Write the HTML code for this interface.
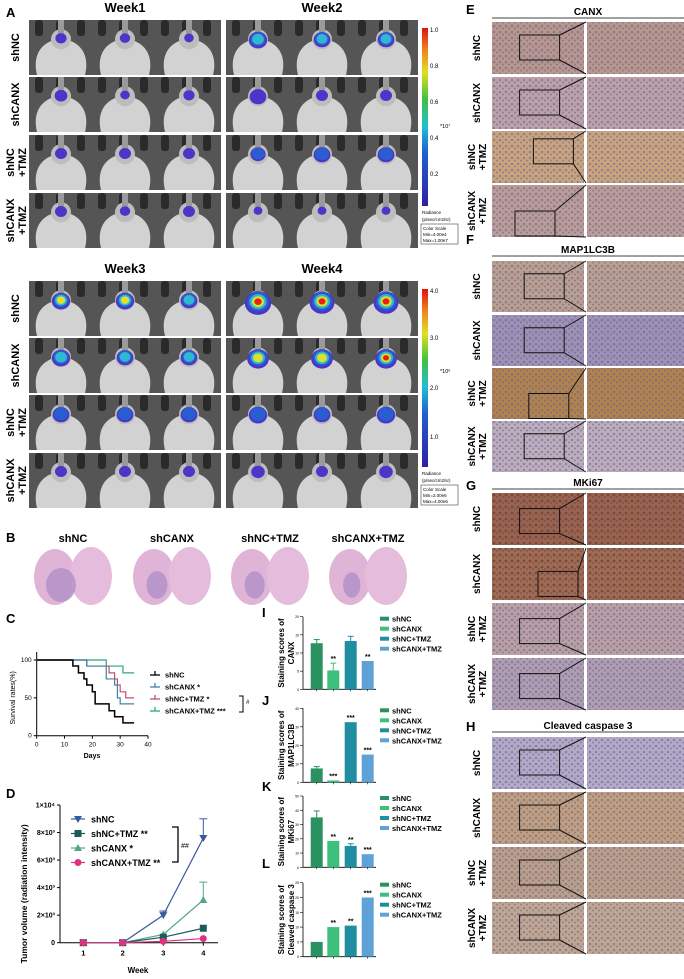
<!DOCTYPE html>
<html><head><meta charset="utf-8"><style>
body{margin:0;background:#fff;}
svg{display:block;font-family:"Liberation Sans",Arial,sans-serif;}
.b{font-weight:bold}
</style></head><body>
<svg id="fig" width="684" height="979" viewBox="0 0 684 979" xmlns="http://www.w3.org/2000/svg">
<defs id="defs">
<pattern id="dotsP" width="6" height="6" patternUnits="userSpaceOnUse"><circle cx="2" cy="2" r="1.3" fill="#6a5c9c" opacity="0.55"/><circle cx="5" cy="4.5" r="1" fill="#5a4c8c" opacity="0.45"/></pattern>
<pattern id="dotsB" width="6" height="6" patternUnits="userSpaceOnUse"><circle cx="2" cy="3" r="1.4" fill="#6a3020" opacity="0.55"/><circle cx="5" cy="5" r="1" fill="#503070" opacity="0.4"/></pattern>
<linearGradient id="cbar" x1="0" y1="1" x2="0" y2="0"><stop offset="0" stop-color="#3020a0"/><stop offset="0.3" stop-color="#2060d0"/><stop offset="0.45" stop-color="#20c0d0"/><stop offset="0.6" stop-color="#40c040"/><stop offset="0.75" stop-color="#e0e020"/><stop offset="0.88" stop-color="#f08020"/><stop offset="1" stop-color="#e01010"/></linearGradient>
</defs>
<g id="panelA"></g>
<g id="panelB"></g>
<g id="panelC"></g>
<g id="panelD"></g>
<g id="bars"></g>
<g id="ihc"></g>
</svg>
<script>
// ---------- Chart data ----------
const groupsBar = ["shNC","shCANX","shNC+TMZ","shCANX+TMZ"];
const canxScores = [12.7,5.2,13.3,7.8];
const canxErr = [1.0,2.0,1.3,0];
const lc3bScores = [7.5,1.0,32.5,15.0];
const lc3bErr = [1.0,0,0,0];
const mki67Scores = [35,18.5,15,9.2];
const mki67Err = [4.5,0,1.5,0];
const casp3Scores = [5,10,10.5,20];
const casp3Err = [0,0,0,0];
const weeks = [1,2,3,4];
const volShNC = [0,0,2000,7600];
const volShNCErr = [0,0,300,1400];
const volShNCTMZ = [0,0,400,1050];
const volShCANX = [0,0,600,3100];
const volShCANXErr = [0,0,0,1300];
const volShCANXTMZ = [0,0,100,300];
const volTicks = [0,2000,4000,6000,8000,10000];
const volTickLabels = ["0","2×10³","4×10³","6×10³","8×10³","1×10⁴"];
const survDaysNC = [0,13,15,17,18,20,21,26,28,31,35];
const survNC = [100,92,83,75,67,58,42,33,25,17,17];
const survDaysCANX = [0,18,25,28,29,30,35];
const survCANX = [100,92,75,67,50,42,42];
const survDaysNCT = [0,18,26,28,29,30,32,35];
const survNCT = [100,92,83,75,67,58,50,50];
const survDaysCT = [0,25,31,35];
const survCT = [100,92,83,83];
const survXTicks = [0,10,20,30,40];
const survYTicks = [0,50,100];

const NS="http://www.w3.org/2000/svg";
function el(parent,tag,attrs,text){const e=document.createElementNS(NS,tag);for(const k in attrs)e.setAttribute(k,attrs[k]);if(text!==undefined)e.textContent=text;parent.appendChild(e);return e;}
const DEFS=document.getElementById('defs');

// ---------- Panel A ----------
const A=document.getElementById('panelA');
let t;
t=el(A,'text',{x:6,y:17,'font-size':13,'class':'b'},'A');

const rowNames=[["shNC"],["shCANX"],["shNC","+TMZ"],["shCANX","+TMZ"]];
const rowsTop=[20,77,135,193], rowsBot=[281,338,395,453], rowH=55;
const blocks=[
 {x:29,rows:rowsTop,title:"Week1",ty:12,lv:[[1,1,1],[1,1,1],[1,1,1],[1,1,1]],sz:[[.45,.4,.35],[.55,.35,.45],[.5,.5,.5],[.5,.4,.5]]},
 {x:226,rows:rowsTop,title:"Week2",ty:12,lv:[[3,3,3],[1,1,1],[2,2,2],[1,1,1]],sz:[[.9,.8,.8],[.8,.5,.5],[.7,.8,.8],[.3,.3,.3]]},
 {x:29,rows:rowsBot,title:"Week3",ty:273,lv:[[4,4,3],[3,3,3],[2,2,2],[1,1,1]],sz:[[.9,.9,.8],[.9,.8,.8],[.8,.8,.8],[.5,.5,.5]]},
 {x:226,rows:rowsBot,title:"Week4",ty:273,lv:[[5,5,5],[4,4,5],[2,2,2],[1,1,1]],sz:[[1.4,1.3,1.3],[1.1,1.1,1.1],[.9,.8,.9],[.6,.5,.6]]}
];
const heat=["#4a36c8","#2a5ed0","#30b8d0","#d8e030","#e82010"];
let clipId=0;
blocks.forEach((b,bi)=>{
  t=el(A,'text',{x:b.x+96,y:b.ty,'font-size':13,'class':'b','text-anchor':'middle'},b.title);
  
  b.rows.forEach((ry,ri)=>{
    const cp=el(DEFS,'clipPath',{id:'cp'+(++clipId)});
    el(cp,'rect',{x:b.x,y:ry,width:192,height:rowH});
    const g=el(A,'g',{'clip-path':`url(#cp${clipId})`});
    
    el(g,'rect',{x:b.x,y:ry,width:192,height:rowH,fill:'#555'});
    for(let k=0;k<9;k++){el(g,'rect',{x:b.x+6+k*21,y:ry,width:8,height:16,fill:'#2a2a2a',rx:3});}
    for(let m=0;m<3;m++){
      const cx=b.x+32+m*64;
      el(g,'path',{d:`M${cx-24},${ry+rowH} C${cx-30},${ry+rowH*0.55} ${cx-14},${ry+rowH*0.35} ${cx},${ry+rowH*0.35} C${cx+14},${ry+rowH*0.35} ${cx+30},${ry+rowH*0.55} ${cx+24},${ry+rowH} Z`,fill:'#d2d2d2'});
      el(g,'ellipse',{cx:cx,cy:ry+rowH*0.35,rx:10,ry:10,fill:'#bdbdbd'});
      el(g,'rect',{x:cx-3,y:ry,width:6,height:rowH*0.25,fill:'#9a9a9a'});
      const s=b.sz[ri][m], lv=b.lv[ri][m];
      const cy=ry+rowH*0.3+s*4;
      el(g,'ellipse',{cx:cx,cy:cy,rx:8*s+2,ry:7*s+2,fill:heat[0]});
      for(let L=1;L<lv;L++){
        el(g,'ellipse',{cx:cx,cy:cy-s,rx:(8*s+2)*(1-L*0.18),ry:(7*s+2)*(1-L*0.18),fill:heat[L]});
      }
    }
  });
});
[rowsTop,rowsBot].forEach(rows=>{
 rows.forEach((ry,ri)=>{
  const cy=ry+rowH/2;
  const nm=rowNames[ri];
  const g=el(A,'text',{transform:`translate(${nm.length>1?14:19},${cy}) rotate(-90)`,'font-size':11,'class':'b','text-anchor':'middle'});
  
  el(g,'tspan',{x:0,dy:0},nm[0]);
  if(nm[1])el(g,'tspan',{x:0,dy:12},nm[1]);
 });
});
[[20,"1.0","0.8","0.6","0.4","0.2","*10⁷","Min=4.00e4","Max=1.00e7"],[281,"4.0","3.0","2.0","1.0","","*10⁶","Min=2.00e6","Max=4.00e6"]].forEach((c,ci)=>{
  const y0=c[0]+8,h=192;
  const g=el(A,'g',{});
  el(g,'rect',{x:422,y:y0,width:6,height:h-14,fill:'url(#cbar)'});
  const labs=ci===0?[c[1],c[2],c[3],c[4],c[5]]:[c[1],c[2],c[3],c[4]];
  labs.forEach((l,i)=>{const yy=ci===0?y0+4+i*(h-30)/4.5:y0+4+[0,47,97,146][i];el(g,'text',{x:430,y:yy,'font-size':6},l);});
  el(g,'text',{x:440,y:y0+(ci===0?100:84),'font-size':5.5},c[6]);
  el(g,'text',{x:422,y:y0+h-6,'font-size':4.5},'Radiance');
  el(g,'text',{x:422,y:y0+h+1,'font-size':4.5},'(p/sec/cm2/sr)');
  el(g,'rect',{x:421,y:y0+h+4,width:37,height:20,fill:'#fff',stroke:'#444','stroke-width':0.6});
  el(g,'text',{x:423,y:y0+h+10,'font-size':4.5},'Color Scale');
  el(g,'text',{x:423,y:y0+h+16,'font-size':4.5},c[7]);
  el(g,'text',{x:423,y:y0+h+22,'font-size':4.5},c[8]);
});

// ---------- Panel B ----------
const B=document.getElementById('panelB');
t=el(B,'text',{x:6,y:542,'font-size':13,'class':'b'},'B');
const bcx=[73,172,270,368], tumor=[1,0.5,0.45,0.3];
groupsBar.forEach((gname,i)=>{
  const g=el(B,'g',{});
  el(g,'text',{x:bcx[i],y:542,'font-size':11,'class':'b','text-anchor':'middle'},gname);
  el(g,'ellipse',{cx:bcx[i]-18,cy:577,rx:21,ry:28,fill:'#e0b4d6'});
  el(g,'ellipse',{cx:bcx[i]+18,cy:576,rx:21,ry:29,fill:'#e6bcdc'});
  el(g,'ellipse',{cx:bcx[i]-18+tumor[i]*6,cy:585,rx:6+tumor[i]*9,ry:11+tumor[i]*6,fill:'#b090c8',opacity:0.8});
});

// ---------- Panel C survival ----------
const C=document.getElementById('panelC');
t=el(C,'text',{x:6,y:623,'font-size':13,'class':'b'},'C');
const cx0=36.7,cx1=148,cy0=735.7,cy1=660;
const sx=d=>cx0+(cx1-cx0)*d/40, sy=v=>cy0-(cy0-cy1)*v/100;
el(C,'line',{x1:cx0,y1:cy0,x2:cx1,y2:cy0,stroke:'#000','stroke-width':1});
el(C,'line',{x1:cx0,y1:cy0,x2:cx0,y2:cy1-8,stroke:'#000','stroke-width':1});
survXTicks.forEach(v=>{el(C,'line',{x1:sx(v),y1:cy0,x2:sx(v),y2:cy0+3,stroke:'#000'});el(C,'text',{x:sx(v),y:cy0+11,'font-size':6.5,'text-anchor':'middle'},v);});
survYTicks.forEach(v=>{el(C,'line',{x1:cx0-3,y1:sy(v),x2:cx0,y2:sy(v),stroke:'#000'});el(C,'text',{x:cx0-5,y:sy(v)+2,'font-size':6.5,'text-anchor':'end'},v);});
el(C,'text',{x:92,y:758,'font-size':7,'text-anchor':'middle','class':'b'},'Days');
el(C,'text',{transform:`translate(15,${(cy0+cy1)/2}) rotate(-90)`,'font-size':7,'text-anchor':'middle'},'Survival rates(%)');
function step(days,vals,color,name,w){
  let d=`M${sx(days[0])},${sy(vals[0])}`;
  for(let i=1;i<days.length;i++){d+=`H${sx(days[i])}V${sy(vals[i])}`;}
  const p=el(C,'path',{d:d,fill:'none',stroke:color,'stroke-width':w});
  
}
step(survDaysCT,survCT,'#2aa878','survival-shcanx-tmz',1.2);
step(survDaysNCT,survNCT,'#c05070','survival-shnc-tmz',1.2);
step(survDaysCANX,survCANX,'#4080b0','survival-shcanx',1.2);
step(survDaysNC,survNC,'#000','survival-shnc',1.5);
const cleg=[["shNC","#000"],["shCANX *","#4080b0"],["shNC+TMZ *","#c05070"],["shCANX+TMZ ***","#2aa878"]];
cleg.forEach((l,i)=>{const y=675+i*12;const g=el(C,'g',{});
 el(g,'line',{x1:150,y1:y,x2:160,y2:y,stroke:l[1],'stroke-width':1.3});el(g,'line',{x1:155,y1:y-4,x2:155,y2:y,stroke:l[1],'stroke-width':1.3});
 el(g,'text',{x:165,y:y+2.5,'font-size':7.5,'class':'b'},l[0]);});
el(C,'path',{d:'M239,696H243V712H239',fill:'none',stroke:'#000','stroke-width':1});
el(C,'text',{x:246,y:704,'font-size':6,'font-style':'italic'},'#');

// ---------- Panel D ----------
const D=document.getElementById('panelD');
t=el(D,'text',{x:6,y:798,'font-size':13,'class':'b'},'D');
const dx0=60,dyZero=942.7,dyTop=805;
const wx=w=>[0,83.3,122.7,163.3,203.3][w], vy=v=>dyZero-(dyZero-dyTop)*v/10000;
el(D,'line',{x1:dx0,y1:dyZero,x2:218,y2:dyZero,stroke:'#000','stroke-width':1});
el(D,'line',{x1:dx0,y1:dyZero,x2:dx0,y2:dyTop,stroke:'#000','stroke-width':1});
volTicks.forEach((v,i)=>{el(D,'line',{x1:dx0-3,y1:vy(v),x2:dx0,y2:vy(v),stroke:'#000'});el(D,'text',{x:dx0-5,y:vy(v)+2.5,'font-size':7,'text-anchor':'end','class':'b'},volTickLabels[i]);});
weeks.forEach(w=>{el(D,'line',{x1:wx(w),y1:dyZero,x2:wx(w),y2:dyZero+3,stroke:'#000'});el(D,'text',{x:wx(w),y:dyZero+13,'font-size':7.5,'text-anchor':'middle','class':'b'},w);});
el(D,'text',{x:138,y:973,'font-size':8,'text-anchor':'middle','class':'b'},'Week');
el(D,'text',{transform:`translate(27,${(dyZero+dyTop)/2+20}) rotate(-90)`,'font-size':8.5,'text-anchor':'middle','class':'b'},'Tumor volume (radiation intensity)');
function marker(g,x,y,shape,color){
  if(shape==='tri-down')el(g,'path',{d:`M${x-4},${y-3}L${x+4},${y-3}L${x},${y+4}Z`,fill:color});
  else if(shape==='sq')el(g,'rect',{x:x-3.5,y:y-3.5,width:7,height:7,fill:color});
  else if(shape==='tri')el(g,'path',{d:`M${x-4},${y+3}L${x+4},${y+3}L${x},${y-4}Z`,fill:color});
  else el(g,'circle',{cx:x,cy:y,r:3.5,fill:color});
}
function series(vals,errs,color,shape,name){
  const g=el(D,'g',{});
  el(g,'polyline',{points:weeks.map((w,i)=>`${wx(w)},${vy(vals[i])}`).join(' '),fill:'none',stroke:color,'stroke-width':1.2});
  weeks.forEach((w,i)=>{
    if(errs&&errs[i]>0){const yt=vy(vals[i]+errs[i]);el(g,'line',{x1:wx(w),y1:vy(vals[i]),x2:wx(w),y2:yt,stroke:color,'stroke-width':1});el(g,'line',{x1:wx(w)-4,y1:yt,x2:wx(w)+4,y2:yt,stroke:color,'stroke-width':1});}
    marker(g,wx(w),vy(vals[i]),shape,color);
  });
}
series(volShNC,volShNCErr,'#3a5aa0','tri-down','series-shnc');
series(volShCANX,volShCANXErr,'#50a888','tri','series-shcanx');
series(volShNCTMZ,null,'#1d5a5a','sq','series-shnc-tmz');
series(volShCANXTMZ,null,'#e03080','circ','series-shcanx-tmz');
const dleg=[["shNC","#3a5aa0","tri-down"],["shNC+TMZ  **","#1d5a5a","sq"],["shCANX  *","#50a888","tri"],["shCANX+TMZ  **","#e03080","circ"]];
dleg.forEach((l,i)=>{const y=819+i*14.5;const g=el(D,'g',{});
 el(g,'line',{x1:71,y1:y,x2:85,y2:y,stroke:l[1],'stroke-width':1.2});marker(g,78,y,l[2],l[1]);
 el(g,'text',{x:91,y:y+3.5,'font-size':9,'class':'b'},l[0]);});
el(D,'path',{d:'M172,827H178V862H172',fill:'none',stroke:'#000','stroke-width':1.3});
el(D,'text',{x:181,y:848,'font-size':7,'font-style':'italic'},'##');

// ---------- Bars I-L ----------
const BR=document.getElementById('bars');
const barColors=["#2a9160","#3cc07c","#1e8ea0","#5fa2d8"];
const barCx=[316.7,333.3,350.7,367.7];
const barPanels=[
 {lab:"I",ly:617,vals:canxScores,err:canxErr,zero:689.3,top:616.7,max:20,ticks:[0,5,10,15,20],t1:"Staining scores of",t2:"CANX",stars:["","**","","**"]},
 {lab:"J",ly:705,vals:lc3bScores,err:lc3bErr,zero:782.3,top:708.3,max:40,ticks:[0,10,20,30,40],t1:"Staining scores of",t2:"MAP1LC3B",stars:["","***","***","***"]},
 {lab:"K",ly:791,vals:mki67Scores,err:mki67Err,zero:867.3,top:796,max:50,ticks:[0,10,20,30,40,50],t1:"Staining scores of",t2:"MKi67",stars:["","**","**","***"]},
 {lab:"L",ly:868,vals:casp3Scores,err:casp3Err,zero:956.7,top:882.7,max:25,ticks:[0,5,10,15,20,25],t1:"Staining scores of",t2:"Cleaved caspase 3",stars:["","**","**","***"]}
];
barPanels.forEach(p=>{
  const g=el(BR,'g',{});
  el(g,'text',{x:262,y:p.ly,'font-size':13,'class':'b'},p.lab);
  const by=v=>p.zero-(p.zero-p.top)*v/p.max;
  el(g,'line',{x1:303,y1:p.zero,x2:376,y2:p.zero,stroke:'#000','stroke-width':0.8});
  el(g,'line',{x1:303,y1:p.zero,x2:303,y2:p.top,stroke:'#000','stroke-width':0.8});
  p.ticks.forEach(v=>{el(g,'line',{x1:300,y1:by(v),x2:303,y2:by(v),stroke:'#000','stroke-width':0.6});el(g,'text',{x:299,y:by(v)+1.5,'font-size':3.5,'text-anchor':'end'},v);});
  const mid=(p.zero+p.top)/2;
  const tt=el(g,'text',{transform:`translate(285,${mid}) rotate(-90)`,'font-size':8,'text-anchor':'middle','class':'b'});
  el(tt,'tspan',{x:0,dy:-1},p.t1);el(tt,'tspan',{x:0,dy:10},p.t2);
  p.vals.forEach((v,i)=>{
    const r=el(g,'rect',{x:barCx[i]-6,y:by(v),width:12,height:p.zero-by(v),fill:barColors[i]});
    
    el(g,'line',{x1:barCx[i],y1:p.zero,x2:barCx[i],y2:p.zero+2,stroke:'#000','stroke-width':0.6});
    if(p.err[i]>0){const yt=by(v+p.err[i]);el(g,'line',{x1:barCx[i],y1:by(v),x2:barCx[i],y2:yt,stroke:barColors[i]});el(g,'line',{x1:barCx[i]-3,y1:yt,x2:barCx[i]+3,y2:yt,stroke:barColors[i]});}
    if(p.stars[i])el(g,'text',{x:barCx[i],y:by(v+p.err[i])-2,'font-size':7,'text-anchor':'middle','class':'b'},p.stars[i]);
  });
  groupsBar.forEach((n,i)=>{const y=p.top+3+i*10;el(g,'rect',{x:380,y:y-3,width:9,height:4,fill:barColors[i]});el(g,'text',{x:392,y:y+2,'font-size':7.5,'class':'b'},n);});
});

// ---------- IHC E-H ----------
const IH=document.getElementById('ihc');
const ihcPanels=[
 {lab:"E",ly:14,title:"CANX",lineY:18,rows:[22,77,131,185],h:52,cols:["#b8978c","#bba3a6","#c9a57e","#b99d96"],box:[[0.3,0.25],[0.3,0.25],[0.45,0.15],[0.25,0.5]]},
 {lab:"F",ly:244,title:"MAP1LC3B",lineY:256,rows:[261,315,368,421],h:51,cols:["#b9a08f","#9d92b3","#b0834e","#bcaebb"],box:[[0.35,0.25],[0.35,0.25],[0.4,0.5],[0.35,0.25]]},
 {lab:"G",ly:490,title:"MKi67",lineY:489,rows:[493,548,603,658],h:52,cols:["#98634f","#9e6b55","#b9a0a3","#ae9eb0"],box:[[0.3,0.3],[0.5,0.45],[0.3,0.3],[0.3,0.3]]},
 {lab:"H",ly:731,title:"Cleaved caspase 3",lineY:732,rows:[737,792,847,902],h:52,cols:["#b2abc5","#c0a07e","#bba088","#c0a890"],box:[[0.3,0.25],[0.3,0.25],[0.3,0.25],[0.3,0.25]]}
];
const rowLab=[["shNC"],["shCANX"],["shNC","+TMZ"],["shCANX","+TMZ"]];
ihcPanels.forEach(p=>{
  const g=el(IH,'g',{});
  el(g,'text',{x:466,y:p.ly,'font-size':13,'class':'b'},p.lab);
  el(g,'text',{x:588,y:p.lineY-3,'font-size':10,'class':'b','text-anchor':'middle'},p.title);
  el(g,'line',{x1:492,y1:p.lineY,x2:684,y2:p.lineY,stroke:'#000','stroke-width':0.8});
  p.rows.forEach((ry,i)=>{
    const pat=p.cols[i]==="#98634f"||p.cols[i]==="#9e6b55"?'url(#dotsB)':'url(#dotsP)';
    el(g,'rect',{x:492,y:ry,width:92,height:p.h,fill:p.cols[i]});
    el(g,'rect',{x:492,y:ry,width:92,height:p.h,fill:pat});
    el(g,'rect',{x:587,y:ry,width:97,height:p.h,fill:p.cols[i]});
    el(g,'rect',{x:587,y:ry,width:97,height:p.h,fill:pat});
    const bx=492+92*p.box[i][0], byy=ry+p.h*p.box[i][1], bw=40, bh=25;
    el(g,'rect',{x:bx,y:byy,width:bw,height:bh,fill:'none',stroke:'#111','stroke-width':1});
    el(g,'line',{x1:bx+bw,y1:byy,x2:586,y2:ry,stroke:'#111','stroke-width':1});
    el(g,'line',{x1:bx+bw,y1:byy+bh,x2:586,y2:ry+p.h,stroke:'#111','stroke-width':1});
    const nm=rowLab[i];
    const tt=el(g,'text',{transform:`translate(${nm.length>1?475:480},${ry+p.h/2}) rotate(-90)`,'font-size':10,'class':'b','text-anchor':'middle'});
    el(tt,'tspan',{x:0,dy:0},nm[0]);if(nm[1])el(tt,'tspan',{x:0,dy:11},nm[1]);
  });
});
</script>
</body></html>
